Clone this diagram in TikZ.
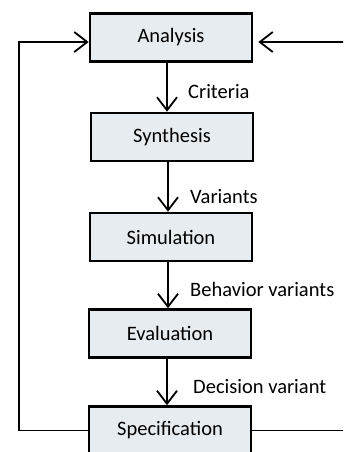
\documentclass[tikz,border=0pt]{standalone}
\usepackage{fontspec}
\setmainfont{Carlito}
\usetikzlibrary{arrows.meta}
\definecolor{boxfill}{RGB}{231,236,240}
\tikzset{
  stage/.style={draw=black, line width=2.6pt, fill=boxfill, minimum width=162pt, minimum height=48pt, inner sep=0pt, font=\fontsize{20.5}{24}\selectfont},
  flow/.style={line width=1.8pt, -{Straight Barb[length=13pt,width=20pt,line width=1.8pt]}},
  plain/.style={line width=1.8pt},
  lbl/.style={anchor=west, inner sep=0pt, font=\fontsize{20.5}{24}\selectfont}
}
\begin{document}
\begin{tikzpicture}[x=1pt,y=-1pt]
\useasboundingbox (0,0) rectangle (343,452);
\clip (0,0) rectangle (343,452);
\node[stage] (ana) at (171,37.5) {Analysis};
\node[stage] (syn) at (172,137) {Synthesis};
\node[stage] (sim) at (171,237) {Simulation};
\node[stage] (eva) at (170,333.5) {Evaluation};
\node[stage] (spe) at (170,430.5) {Specification};
\draw[flow] ([xshift=-4pt]ana.south) -- ([xshift=-4pt]ana.south |- syn.north);
\draw[flow] ([xshift=-4pt]syn.south) -- ([xshift=-4pt]syn.south |- sim.north);
\draw[flow] ([xshift=-3pt]sim.south) -- ([xshift=-3pt]sim.south |- eva.north);
\draw[flow] ([xshift=-3pt]eva.south) -- ([xshift=-3pt]eva.south |- spe.north);
\node[lbl] (l1) at (188,92) {Criteria};
\node[lbl] (l2) at (190,197) {Variants};
\node[lbl] (l3) at (190,289) {Behavior variants};
\node[lbl] (l4) at (193,387) {Decision variant};
\coordinate (lc) at (19,42);
\coordinate (rin) at (345,42);
\coordinate (rout) at (345,0);
\draw[flow] (spe.west) -| (lc) -- (ana.west |- lc);
\draw[flow] (rin) -- ([xshift=5pt]ana.east |- rin);
\draw[plain] (spe.east) -- (rout |- spe.east);
\end{tikzpicture}
\end{document}
